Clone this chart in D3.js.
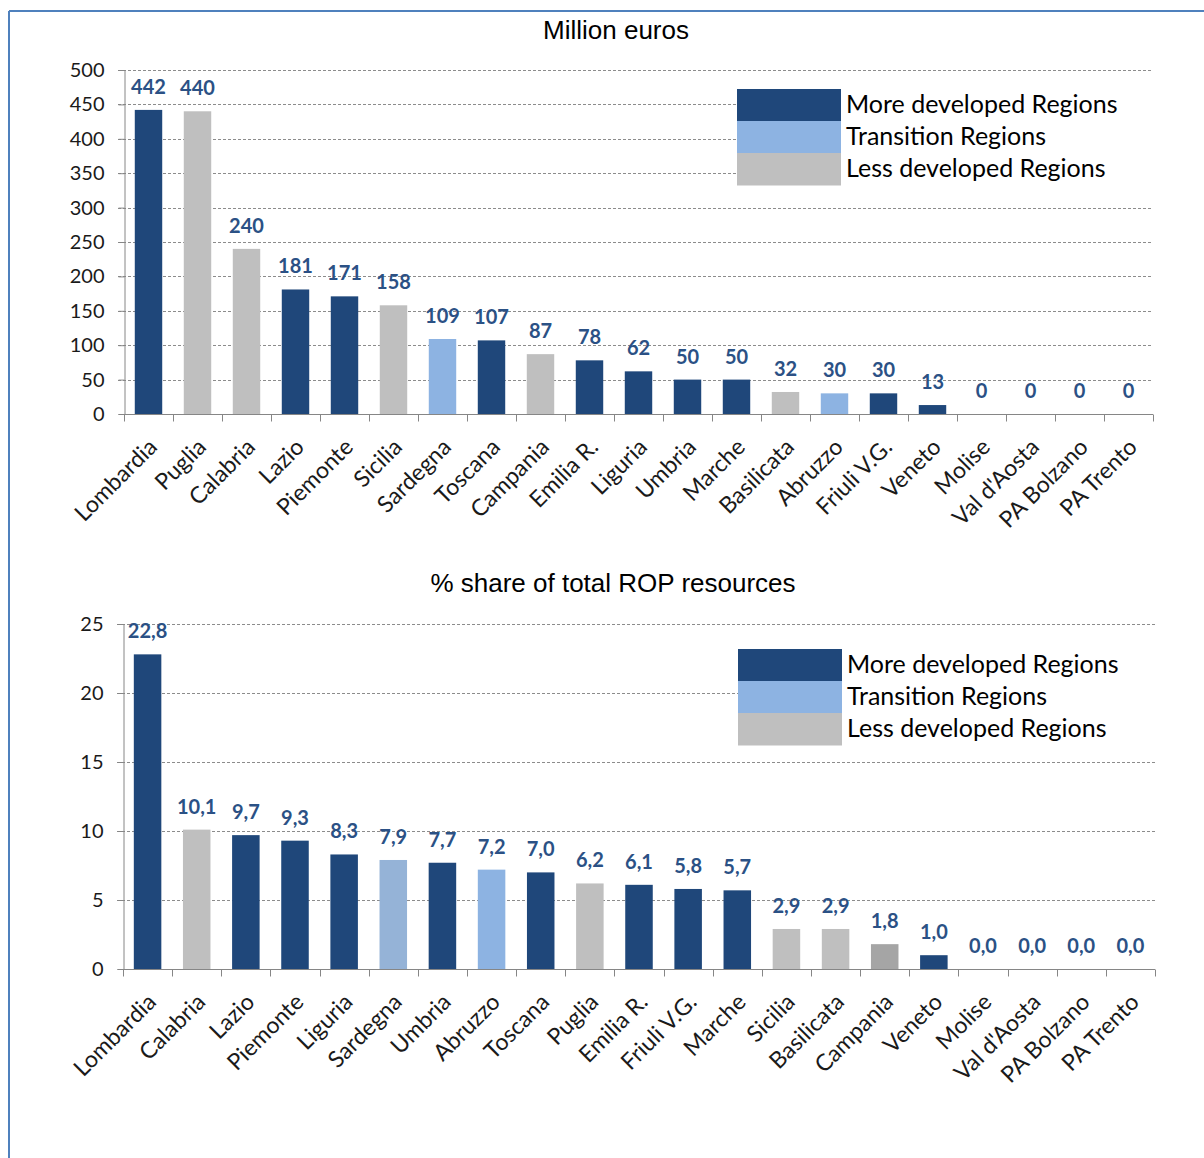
<!DOCTYPE html>
<html>
<head>
<meta charset="utf-8">
<script src="https://cdn.jsdelivr.net/npm/d3@7"></script>
<style>
  body { margin: 0; background: #fff; }
  svg { display: block; }
  .grid line { stroke: #8c8c8c; stroke-dasharray: 3,2; stroke-width: 1; }
  .axis-text { font-family: Lato, "Open Sans", sans-serif; fill: #1a1a1a; }
  .value-label { font-family: Lato, sans-serif; font-weight: bold; fill: #2b5185; }
  .title { font-family: "Liberation Sans", Arial, sans-serif; fill: #000; }
</style>
</head>
<body>
<div id="chart"></div>
<script>
// top chart: million euros
var topCategories = ["Lombardia", "Puglia", "Calabria", "Lazio", "Piemonte", "Sicilia",
  "Sardegna", "Toscana", "Campania", "Emilia R.", "Liguria", "Umbria", "Marche",
  "Basilicata", "Abruzzo", "Friuli V.G.", "Veneto", "Molise", "Val d'Aosta",
  "PA Bolzano", "PA Trento"];
var topValues = [442, 440, 240, 181, 171, 158, 109, 107, 87, 78, 62, 50, 50, 32, 30, 30, 13, 0, 0, 0, 0];
var topTypes = ["M", "L", "L", "M", "M", "L", "T", "M", "L", "M", "M", "M", "M", "L", "T", "M", "M", "M", "M", "M", "M"];
var topTicks = [0, 50, 100, 150, 200, 250, 300, 350, 400, 450, 500];

// bottom chart: % share of total ROP resources
var bottomCategories = ["Lombardia", "Calabria", "Lazio", "Piemonte", "Liguria", "Sardegna",
  "Umbria", "Abruzzo", "Toscana", "Puglia", "Emilia R.", "Friuli V.G.", "Marche",
  "Sicilia", "Basilicata", "Campania", "Veneto", "Molise", "Val d'Aosta",
  "PA Bolzano", "PA Trento"];
var bottomValues = [22.8, 10.1, 9.7, 9.3, 8.3, 7.9, 7.7, 7.2, 7.0, 6.2, 6.1, 5.8, 5.7, 2.9, 2.9, 1.8, 1.0, 0, 0, 0, 0];
var bottomTypes = ["M", "L", "M", "M", "M", "T2", "M", "T", "M", "L", "M", "M", "M", "L", "L", "L2", "M", "M", "M", "M", "M"];
var bottomTicks = [0, 5, 10, 15, 20, 25];

var legendLabels = ["More developed Regions", "Transition Regions", "Less developed Regions"];
var legendTypes = ["M", "T", "L"];

var colors = { M: "#1f477a", T: "#8db3e2", L: "#bfbfbf", T2: "#95b3d7", L2: "#a5a5a5" };

var width = 1204, height = 1158;
var svg = d3.select("#chart").append("svg")
    .attr("width", width)
    .attr("height", height);

// frame
svg.append("line").attr("x1", 9).attr("x2", width).attr("y1", 11).attr("y2", 11)
    .attr("stroke", "#4f81bd").attr("stroke-width", 2);
svg.append("line").attr("x1", 9).attr("x2", 9).attr("y1", 11).attr("y2", height)
    .attr("stroke", "#4f81bd").attr("stroke-width", 2);

var drawChart = function(opts) {
  var g = svg.append("g");
  var x = d3.scaleBand()
      .domain(opts.categories)
      .range([opts.left, opts.right]);
  var y = d3.scaleLinear()
      .domain([0, opts.max])
      .range([opts.bottom, opts.top]);
  var barWidth = x.bandwidth() * 0.56;

  g.append("text").attr("class", "title")
      .attr("x", opts.titleX).attr("y", opts.titleY)
      .attr("text-anchor", "middle")
      .style("font-size", "26px")
      .text(opts.title);

  // gridlines with little ticks to the left
  g.append("g").attr("class", "grid")
      .selectAll("line")
      .data(opts.ticks.filter(function(t) { return t > 0; }))
      .enter().append("line")
      .attr("x1", opts.left - 6)
      .attr("x2", opts.right)
      .attr("y1", function(d) { return Math.round(y(d)) + 0.5; })
      .attr("y2", function(d) { return Math.round(y(d)) + 0.5; });

  var yAxis = g.append("g")
      .attr("transform", "translate(" + (opts.left + 0.5) + ",0)")
      .call(d3.axisLeft(y).tickValues(opts.ticks).tickSize(6).tickPadding(14));
  yAxis.select(".domain").attr("stroke", "#868686");
  yAxis.selectAll(".tick line").attr("stroke", "#868686");
  yAxis.selectAll(".tick text").attr("class", "axis-text")
      .style("font-size", "20px");

  // legend (white box hides the gridlines behind it)
  var legend = g.append("g")
      .attr("transform", "translate(" + opts.legendX + "," + opts.legendY + ")");
  legend.append("rect")
      .attr("x", 0).attr("y", -8)
      .attr("width", opts.right - opts.legendX + 4)
      .attr("height", 112)
      .attr("fill", "#fff");
  var rowH = 32;
  legend.selectAll("rect.key")
    .data(legendTypes)
    .enter()
    .append("rect")
    .attr("class", "key")
    .attr("x", 0)
    .attr("y", function(d, i) { return i * rowH; })
    .attr("width", 104)
    .attr("height", rowH + 0.5)
    .attr("fill", function(d) { return colors[d]; });
  legend.selectAll("text")
    .data(legendLabels)
    .enter()
    .append("text")
    .attr("class", "axis-text")
    .attr("x", 109)
    .attr("y", function(d, i) { return i * rowH + 24; })
    .style("font-size", "25px")
    .style("fill", "#000")
    .text(function(d) { return d; });

  // bars
  g.selectAll("rect.bar")
    .data(opts.values)
    .enter()
    .append("rect")
    .attr("class", "bar")
    .attr("x", function(d, i) {
      return x(opts.categories[i]) + (x.bandwidth() - barWidth) / 2;
    })
    .attr("y", function(d) { return y(d); })
    .attr("width", barWidth)
    .attr("height", function(d) { return opts.bottom - y(d); })
    .attr("fill", function(d, i) { return colors[opts.types[i]]; });

  // value labels
  g.selectAll("text.value-label")
    .data(opts.values)
    .enter()
    .append("text")
    .attr("class", "value-label")
    .attr("x", function(d, i) { return x(opts.categories[i]) + x.bandwidth() / 2; })
    .attr("y", function(d) { return y(d) - 16; })
    .attr("text-anchor", "middle")
    .style("font-size", "20px")
    .text(function(d) { return opts.format(d); });

  // x axis
  var xAxis = g.append("g")
      .attr("transform", "translate(0," + (opts.bottom + 0.5) + ")");
  xAxis.append("line")
      .attr("x1", opts.left).attr("x2", opts.right)
      .attr("stroke", "#868686");
  var edges = [opts.left].concat(opts.categories.map(function(d) {
    return x(d) + x.bandwidth();
  }));
  xAxis.selectAll("line.xtick")
    .data(edges)
    .enter()
    .append("line")
    .attr("class", "xtick")
    .attr("x1", function(d) { return Math.round(d) + 0.5; })
    .attr("x2", function(d) { return Math.round(d) + 0.5; })
    .attr("y1", 0).attr("y2", 7)
    .attr("stroke", "#868686");
  xAxis.selectAll("text.cat")
    .data(opts.categories)
    .enter()
    .append("text")
    .attr("class", "axis-text cat")
    .attr("text-anchor", "end")
    .style("font-size", "23px")
    .attr("transform", function(d) {
      var cx = x(d) + x.bandwidth() / 2 + 10;
      return "translate(" + cx + ",34) rotate(-45)";
    })
    .text(function(d) { return d; });
};

var fmtInt = d3.format("d");
var fmtComma = function(d) { return d3.format(".1f")(d).replace(".", ","); };

drawChart({
  categories: topCategories, values: topValues, types: topTypes, ticks: topTicks,
  max: 500, left: 124, right: 1153, top: 70, bottom: 414,
  title: "Million euros", titleX: 616, titleY: 39,
  format: fmtInt, legendX: 737, legendY: 89
});

drawChart({
  categories: bottomCategories, values: bottomValues, types: bottomTypes, ticks: bottomTicks,
  max: 25, left: 123, right: 1155, top: 624, bottom: 969,
  title: "% share of total ROP resources", titleX: 613, titleY: 592,
  format: fmtComma, legendX: 738, legendY: 649
});
</script>
</body>
</html>
